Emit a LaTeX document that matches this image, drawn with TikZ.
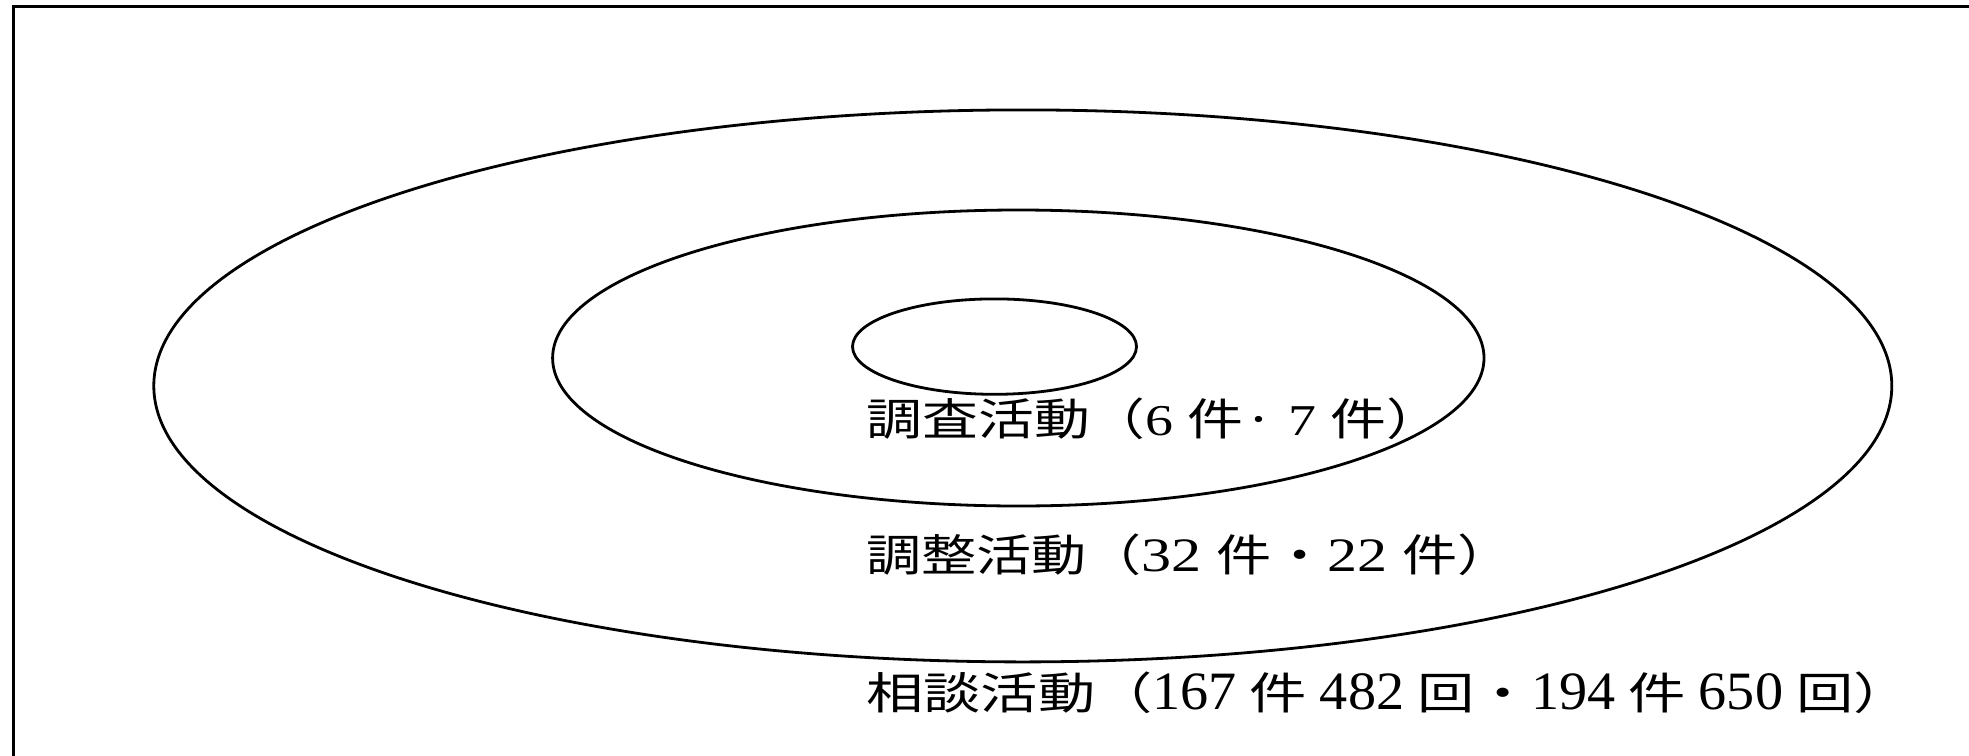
\documentclass[tikz,border=0pt]{standalone}
\usepackage{fontspec}
\setmainfont{Liberation Serif}
\newfontfamily\cjk{Noto Sans CJK JP}
\newcommand\tallnum[1]{\scalebox{0.8}[1]{\fontsize{27pt}{30pt}\selectfont\rmfamily #1}}
\begin{document}
\begin{tikzpicture}[x=0.5pt,y=-0.5pt,
  ring/.style={draw=black, line width=1.4pt},
  frameline/.style={draw=black, line width=1.5pt},
  lab/.style={anchor=base west, inner sep=0pt, font=\fontsize{22pt}{26pt}\selectfont}]
\useasboundingbox (0,0) rectangle (1969,755);
% frame (continues beyond the right and bottom edges)
\coordinate (fbot) at (13.5,760);
\coordinate (fcorner) at (13.5,6);
\coordinate (fright) at (1975,6);
\draw[frameline] (fbot) -- (fcorner) -- (fright);
% rings
\draw[ring] (1022.8,385.9) ellipse [x radius=869, y radius=276];
\draw[ring] (1018.3,358) ellipse [x radius=465.7, y radius=148];
\draw[ring] (994.5,346.6) ellipse [x radius=142, y radius=47.7];
% labels
\node[lab] (chosa) at (866,435) {\resizebox{288pt}{\height}{\cjk 調査活動（\rmfamily 6 \cjk 件·\rmfamily\ 7 \cjk 件）}};
\node[lab] (chosei) at (866,571) {\resizebox{323pt}{\height}{\cjk 調整活動（\fontsize{24pt}{26pt}\selectfont\rmfamily 32 \fontsize{22pt}{26pt}\selectfont\cjk 件・\fontsize{24pt}{26pt}\selectfont\rmfamily 22 \fontsize{22pt}{26pt}\selectfont\cjk 件）}};
\node[lab] (sodan) at (866,709) {\resizebox{522pt}{\height}{\cjk 相談活動（\tallnum{167} \cjk 件\ \tallnum{482} \cjk 回・\tallnum{194} \cjk 件\ \tallnum{650} \cjk 回）}};
\end{tikzpicture}
\end{document}
